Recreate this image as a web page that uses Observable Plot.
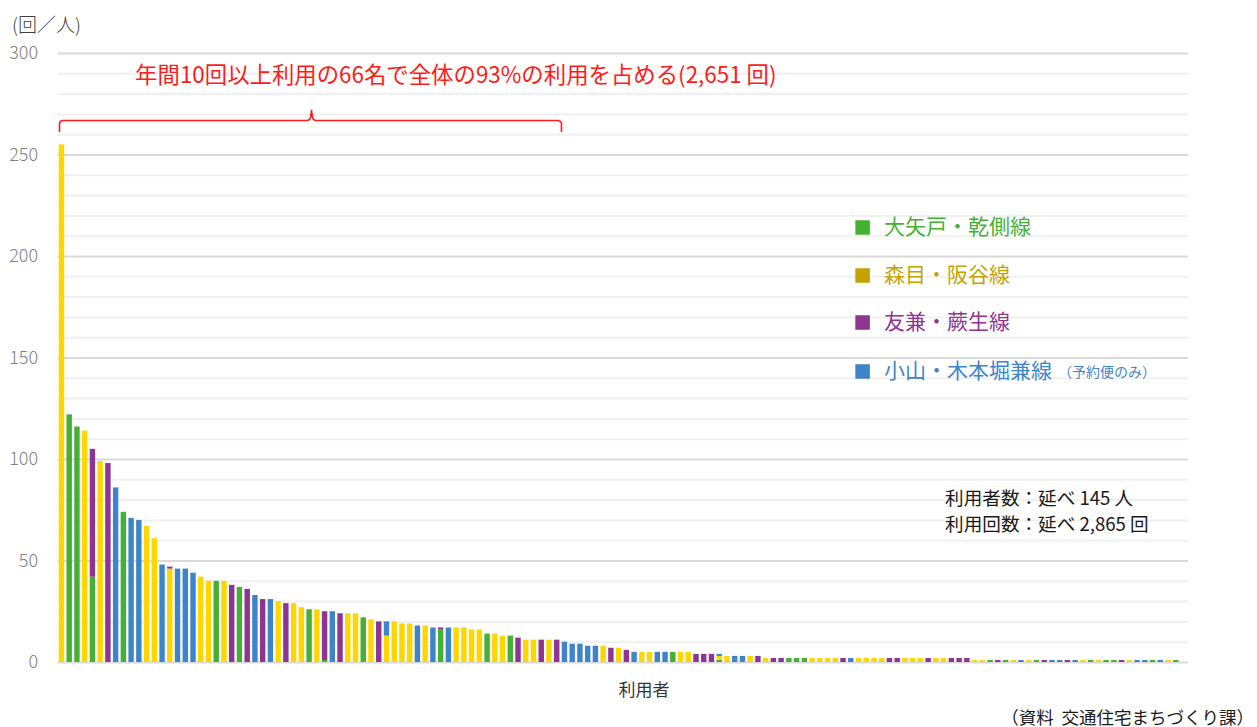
<!DOCTYPE html>
<html>
<head>
<meta charset="utf-8">
<script src="https://cdn.jsdelivr.net/npm/d3@7"></script>
<script src="https://cdn.jsdelivr.net/npm/@observablehq/plot@0.6"></script>
<style>
  html, body { margin: 0; padding: 0; background: #ffffff; }
  #chart svg { display: block; }
</style>
</head>
<body>
<div id="chart"></div>
<script>
// ---- data ----
const lines = ["大矢戸・乾側線", "森目・阪谷線", "友兼・蕨生線", "小山・木本堀兼線"];
const lineCodes = ["G", "Y", "P", "B"];
const barColors = ["#46b035", "#ffd700", "#8e3591", "#3d85c8"];
const legendColors = ["#46b035", "#c4a300", "#8e3591", "#3d85c8"];

// total rides per user (sorted descending), 145 users
const totals = [
  255,122,116,114,105,99,98,86,74,71,
  70,67,61,48,47,46,46,44,42,40,
  40,40,38,37,36,33,31,31,30,29,
  29,27,26,26,25,25,24,24,24,22,
  21,20,20,20,19,19,18,18,17,17,
  17,17,17,16,16,14,14,13,13,12,
  11,11,11,11,11,10,9,9,8,8,
  8,7,7,6,5,5,5,5,5,5,
  5,5,4,4,4,4,3,3,3,3,
  3,2,2,2,2,2,2,2,2,2,
  2,2,2,2,2,2,2,2,2,2,
  2,2,2,2,2,2,2,2,1,1,
  1,1,1,1,1,1,1,1,1,1,
  1,1,1,1,1,1,1,1,1,1,
  1,1,1,1,1
];

// main line used by each user
const userLine = [
  "Y","G","G","Y","G","Y","P","B","G","B",
  "B","Y","Y","B","Y","B","B","B","Y","Y",
  "G","Y","P","G","P","B","P","B","Y","P",
  "Y","Y","G","Y","P","B","P","Y","Y","G",
  "Y","P","Y","Y","Y","Y","B","Y","B","G",
  "B","Y","Y","Y","Y","G","Y","Y","G","P",
  "Y","Y","P","Y","P","B","B","B","B","B",
  "Y","P","Y","P","B","Y","Y","B","B","G",
  "Y","Y","P","P","P","G","Y","B","B","Y",
  "P","Y","P","P","G","G","G","Y","Y","Y",
  "Y","P","B","Y","Y","Y","Y","P","P","Y",
  "Y","Y","P","Y","Y","P","P","P","Y","Y",
  "G","P","G","Y","B","Y","G","P","B","B",
  "P","B","Y","G","Y","G","G","P","Y","B",
  "B","G","B","Y","G"
];

// users whose rides are split over several lines
const mixedUsers = [
  { user: 5,  G: 42, P: 63 },
  { user: 15, Y: 46, P: 1 },
  { user: 35, G: 1,  P: 24 },
  { user: 43, Y: 13, B: 7 },
  { user: 50, G: 16, P: 1 },
  { user: 86, G: 1,  Y: 2, B: 1 }
];

const majorTicks = [0, 50, 100, 150, 200, 250, 300];
const minorTicks = [10,20,30,40,60,70,80,90,110,120,130,140,160,170,180,190,210,220,230,240,260,270,280,290];

// brace above the 66 users with 10+ rides
const brace = [
  {x: 0.68, y: 261.6}, {x: 0.68, y: 265.6}, {x: 0.8, y: 266.6}, {x: 1.1, y: 267.0},
  {x: 32.7, y: 267.0}, {x: 33.0, y: 267.5}, {x: 33.15, y: 269.0}, {x: 33.25, y: 272.0},
  {x: 33.35, y: 269.0}, {x: 33.5, y: 267.5}, {x: 33.8, y: 267.0},
  {x: 65.1, y: 267.0}, {x: 65.4, y: 266.6}, {x: 65.55, y: 265.6}, {x: 65.55, y: 261.6}
];

const titleText = "年間10回以上利用の66名で全体の93%の利用を占める(2,651 回)";
const statsText = ["利用者数：延べ 145 人", "利用回数：延べ 2,865 回"];
const unitText = "(回／人)";
const xLabel = "利用者";
const sourceText = "（資料  交通住宅まちづくり課）";
const legendNote = "（予約便のみ）";

// ---- build stacked rows ----
const rows = [];
totals.forEach((t, i) => {
  const user = i + 1;
  const mix = mixedUsers.find(m => m.user === user);
  const parts = mix ? mix : { [userLine[i]]: t };
  let acc = 0;
  lineCodes.forEach((c, k) => {
    const v = parts[c] || 0;
    if (v > 0) {
      rows.push({ user, line: lines[k], y1: acc, y2: acc + v });
      acc += v;
    }
  });
});

const legendRows = lines.map((name, k) => ({ name, k, color: legendColors[k] }));
const legendDy = [174, 222, 269, 318];

const font = "'Noto Sans CJK JP', 'Noto Sans', sans-serif";

const chart = Plot.plot({
  width: 1257,
  height: 727,
  marginLeft: 57.6,
  marginRight: 69,
  marginTop: 53,
  marginBottom: 65,
  x: { domain: [0.5, 146.58], axis: null },
  y: { domain: [0, 300], axis: null },
  color: { domain: lines, range: barColors },
  style: { fontFamily: font, background: "#ffffff", overflow: "visible" },
  marks: [
    Plot.ruleY(minorTicks, { stroke: "#f0f0f0", strokeWidth: 2 }),
    Plot.ruleY(majorTicks, { stroke: "#d9d9d9", strokeWidth: 2 }),
    Plot.axisY(majorTicks, { tickSize: 0, tickPadding: 20, fontSize: 18, color: "#808080", fontWeight: 300 }),
    Plot.rect(rows, {
      x1: d => d.user - 0.35,
      x2: d => d.user + 0.35,
      y1: "y1",
      y2: "y2",
      fill: "line"
    }),
    Plot.line(brace, { x: "x", y: "y", stroke: "#ff1a1a", strokeWidth: 1.6 }),
    Plot.text([titleText], { frameAnchor: "top-left", dx: 77, dy: 14, textAnchor: "start", fontSize: 22.4, fill: "#ff1a1a" }),
    Plot.text([unitText], { frameAnchor: "top-left", dx: -46, dy: -35, textAnchor: "start", fontSize: 19, fill: "#404040", fontWeight: 300 }),
    // legend
    ...legendRows.map((d, k) => Plot.dot([d], { frameAnchor: "top-left", dx: 804.5, dy: legendDy[k], symbol: "square", r: 8.2, fill: d.color, stroke: null })),
    ...legendRows.map((d, k) => Plot.text([d.name], { frameAnchor: "top-left", dx: 826, dy: legendDy[k] - 8.5, textAnchor: "start", fontSize: 21, fill: d.color })),
    Plot.text([legendNote], { frameAnchor: "top-left", dx: 1000, dy: legendDy[3] - 4, textAnchor: "start", fontSize: 14, fill: legendColors[3] }),
    // stats
    Plot.text([statsText[0]], { frameAnchor: "top-left", dx: 887, dy: 438, textAnchor: "start", fontSize: 18.6, fill: "#1a1a1a" }),
    Plot.text([statsText[1]], { frameAnchor: "top-left", dx: 887, dy: 464, textAnchor: "start", fontSize: 18.6, fill: "#1a1a1a" }),
    // x label and source
    Plot.text([xLabel], { frameAnchor: "top-left", dx: 586, dy: 630, textAnchor: "middle", fontSize: 17, fill: "#333333" }),
    Plot.text([sourceText], { frameAnchor: "top-left", dx: 1196, dy: 658, textAnchor: "end", fontSize: 17.5, fill: "#1a1a1a" })
  ]
});

document.getElementById("chart").appendChild(chart);
</script>
</body>
</html>
